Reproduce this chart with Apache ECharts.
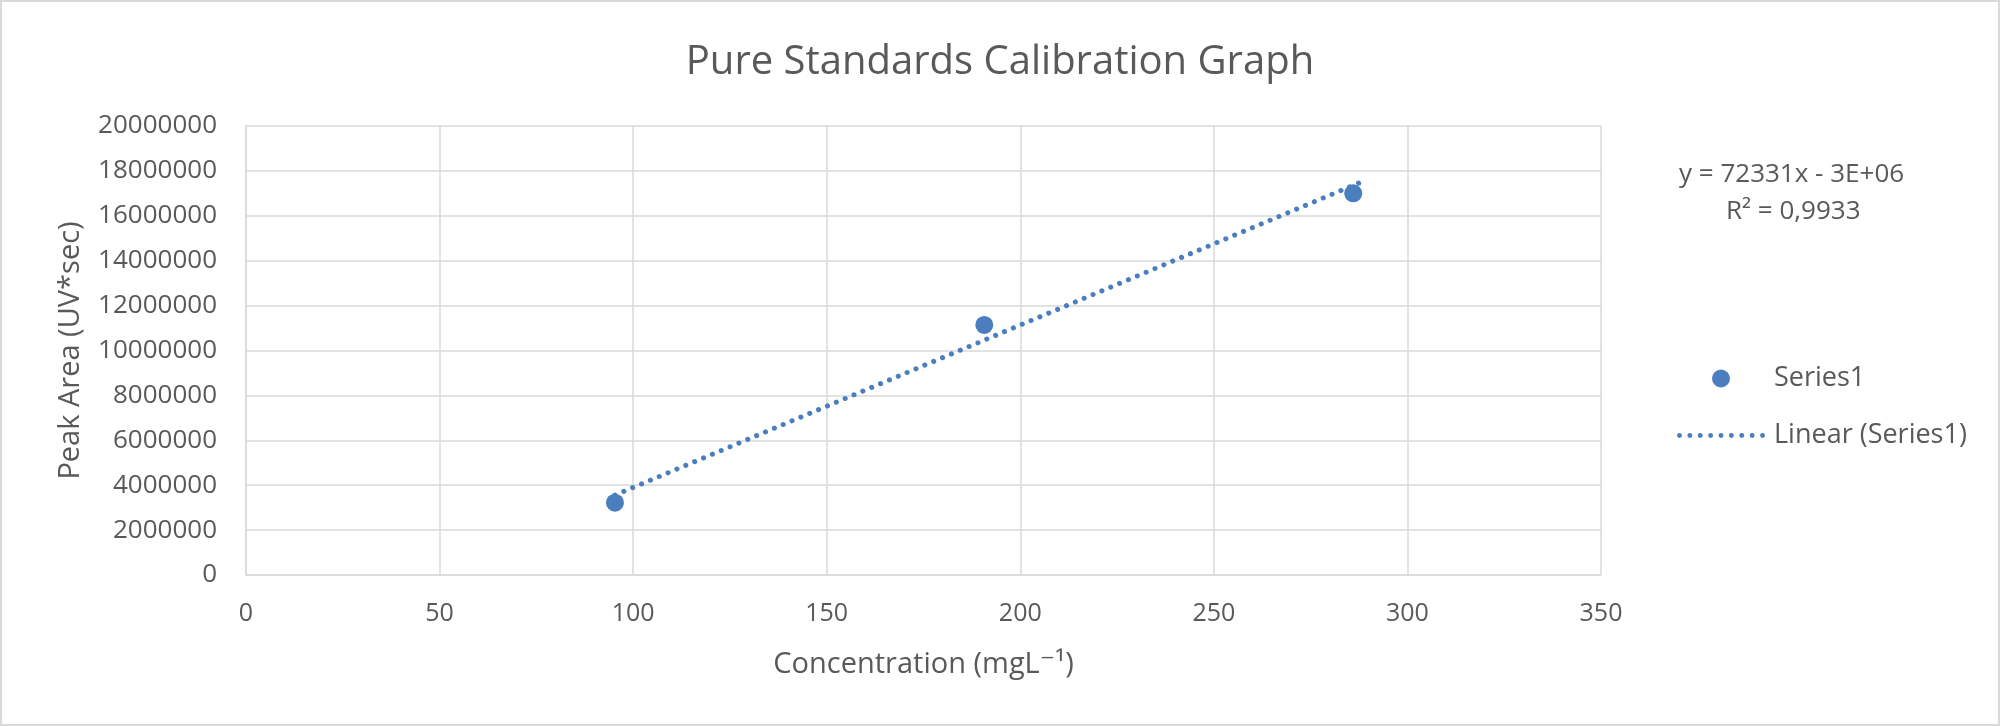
<!DOCTYPE html>
<html>
<head>
<meta charset="utf-8">
<script src="https://cdn.jsdelivr.net/npm/echarts@6/dist/echarts.min.js"></script>
<style>
  html, body { margin: 0; padding: 0; background: #fff; }
  #chart { width: 2000px; height: 726px; }
</style>
</head>
<body>
<div id="chart"></div>
<script>
// data
let concentration = [95.3, 190.7, 286.0];
let peakArea = [3220000, 11140000, 17000000];
// fitted trendline ends (y = 72331x - 3E+06), over the data range
let trendX = [95.3, 288.0];
let trendY = [3560000, 17500000];
let xTicks = [0, 50, 100, 150, 200, 250, 300, 350];
let yTicks = [0, 2000000, 4000000, 6000000, 8000000, 10000000, 12000000, 14000000, 16000000, 18000000, 20000000];
let equationText = ['y = 72331x - 3E+06', 'R² = 0,9933'];

let blue = '#4a7ebf';
let grey = '#595959';
let gridGrey = '#d9d9d9';
let font = '"Open Sans", "DejaVu Sans", sans-serif';

// dotted legend icon for the trendline (9 small dots in a row)
let dotIcon = 'path://';
for (let i = 0; i < 9; i++) {
  let cx = 2.5 + i * 10.5;
  dotIcon += 'M' + (cx - 2.5) + ',2.5 a2.5,2.5 0 1,0 5,0 a2.5,2.5 0 1,0 -5,0 ';
}

let option = {
  backgroundColor: '#fff',
  textStyle: { fontFamily: font, color: grey },
  title: {
    text: 'Pure Standards Calibration Graph',
    left: 'center',
    top: 38,
    textStyle: { fontFamily: font, fontSize: 40, fontWeight: 'normal', color: grey }
  },
  grid: { left: 246, right: 399, top: 126, bottom: 151 },
  legend: {
    orient: 'vertical',
    left: 1677,
    top: 365,
    padding: 0,
    itemWidth: 88,
    itemHeight: 18,
    itemGap: 30,
    textStyle: { fontFamily: font, fontSize: 27, color: grey, padding: [0, 0, 0, 4] },
    data: [
      { name: 'Series1', icon: 'circle' },
      { name: 'Linear (Series1)', icon: dotIcon, itemStyle: { color: blue } }
    ]
  },
  xAxis: {
    type: 'value',
    min: xTicks[0],
    max: xTicks[xTicks.length - 1],
    interval: xTicks[1] - xTicks[0],
    name: 'Concentration (mgL⁻¹)',
    nameLocation: 'middle',
    nameGap: 75,
    nameTextStyle: { fontFamily: font, fontSize: 29, color: grey },
    axisLine: { show: true, lineStyle: { color: gridGrey, width: 1.5 } },
    axisTick: { show: false },
    axisLabel: { fontFamily: font, fontSize: 25, color: grey, margin: 26 },
    splitLine: { show: true, lineStyle: { color: gridGrey, width: 1.5 } }
  },
  yAxis: {
    type: 'value',
    min: yTicks[0],
    max: yTicks[yTicks.length - 1],
    interval: yTicks[1] - yTicks[0],
    name: 'Peak Area (UV*sec)',
    nameLocation: 'middle',
    nameGap: 161,
    nameTextStyle: { fontFamily: font, fontSize: 29, color: grey },
    axisLine: { show: true, lineStyle: { color: gridGrey, width: 1.5 } },
    axisTick: { show: false },
    axisLabel: {
      fontFamily: font, fontSize: 26, color: grey, margin: 29,
      formatter: v => String(v)
    },
    splitLine: { show: true, lineStyle: { color: gridGrey, width: 1.5 } }
  },
  graphic: [
    {
      type: 'rect',
      silent: true,
      shape: { x: 1, y: 1, width: 1998, height: 724 },
      style: { fill: 'none', stroke: gridGrey, lineWidth: 2 }
    },
    {
      type: 'text',
      left: 1679,
      top: 162,
      style: { text: equationText[0], font: '26px ' + font, fill: grey }
    },
    {
      type: 'text',
      left: 1726,
      top: 199,
      style: { text: equationText[1], font: '26px ' + font, fill: grey }
    }
  ],
  series: [
    {
      name: 'Series1',
      type: 'scatter',
      symbol: 'circle',
      symbolSize: 18,
      itemStyle: { color: blue, opacity: 1 },
      data: concentration.map((x, i) => [x, peakArea[i]]),
      z: 3
    },
    {
      name: 'Linear (Series1)',
      type: 'line',
      symbol: 'none',
      itemStyle: { color: blue },
      lineStyle: { color: blue, width: 5, type: [0.1, 9.5], cap: 'round' },
      data: trendX.map((x, i) => [x, trendY[i]]),
      z: 2
    }
  ]
};

let myChart = echarts.init(document.getElementById('chart'), null, { renderer: 'canvas' });
myChart.setOption(option);
</script>
</body>
</html>
